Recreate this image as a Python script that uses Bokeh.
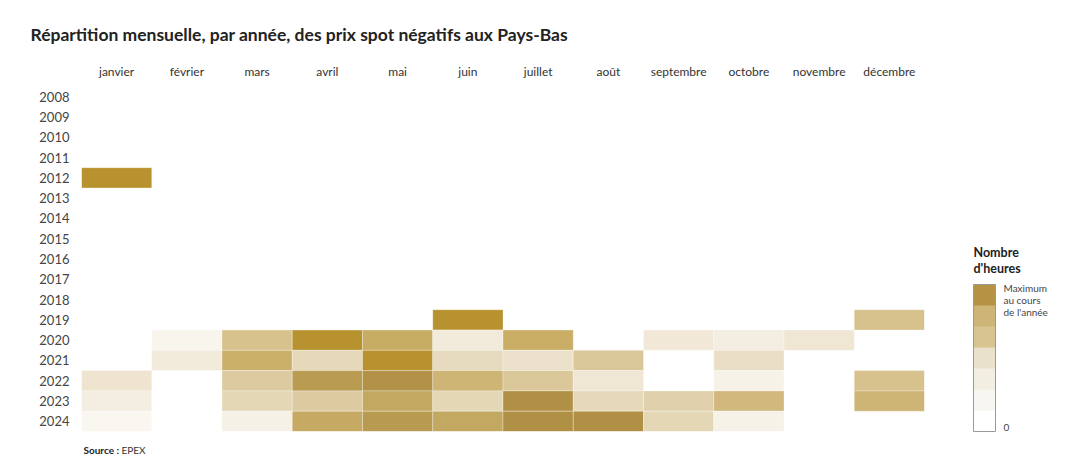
from bokeh.plotting import figure
from bokeh.models import (ColumnDataSource, FactorRange, LinearColorMapper, ColorBar,
                          FixedTicker, Label)
from bokeh.transform import transform
from bokeh.embed import file_html
from bokeh.resources import INLINE

# ---------------- data ----------------
months = ["janvier", "février", "mars", "avril", "mai", "juin", "juillet",
          "août", "septembre", "octobre", "novembre", "décembre"]
years = [str(y) for y in range(2008, 2025)]

# share of the year's maximum monthly number of negative-price hours (0..1)
v2012 = [1.00, 0, 0, 0, 0, 0, 0, 0, 0, 0, 0, 0]
v2019 = [0, 0, 0, 0, 0, 1.00, 0, 0, 0, 0, 0, 0.50]
v2020 = [0, 0.05, 0.50, 1.00, 0.72, 0.13, 0.70, 0, 0.14, 0.10, 0.16, 0]
v2021 = [0, 0.13, 0.68, 0.30, 1.00, 0.27, 0.20, 0.45, 0, 0.23, 0, 0]
v2022 = [0.18, 0, 0.42, 0.86, 0.93, 0.62, 0.45, 0.16, 0, 0.07, 0, 0.50]
v2023 = [0.10, 0, 0.32, 0.42, 0.75, 0.32, 0.95, 0.30, 0.37, 0.58, 0, 0.62]
v2024 = [0.04, 0, 0.08, 0.73, 0.87, 0.75, 0.95, 0.95, 0.32, 0.07, 0, 0]
rows = {"2012": v2012, "2019": v2019, "2020": v2020, "2021": v2021,
        "2022": v2022, "2023": v2023, "2024": v2024}

legend_colors = ["#FFFFFF", "#F8F6F0", "#F3EEE2", "#EAE1CA", "#D7C491", "#CDB577", "#B69245"]

# ---------------- colour scale ----------------
anchors = [(0.00, "#FFFFFF"), (0.05, "#F8F5EC"), (0.10, "#F4EEE2"), (0.15, "#F0E7D6"),
           (0.25, "#E9DDC2"), (0.32, "#E3D7B6"), (0.42, "#DCCBA1"), (0.50, "#D7C28E"),
           (0.60, "#CFB679"), (0.70, "#CAAE66"), (0.75, "#C3A862"), (0.87, "#B89A50"),
           (0.95, "#B09044"), (1.00, "#B8922F")]

def hex2rgb(h):
    return tuple(int(h[i:i + 2], 16) for i in (1, 3, 5))

palette = []
N = 201
for k in range(N):
    t = k / (N - 1)
    for (a, ca), (b, cb) in zip(anchors[:-1], anchors[1:]):
        if a <= t <= b:
            f = (t - a) / (b - a) if b > a else 0
            r1, g1, b1 = hex2rgb(ca)
            r2, g2, b2 = hex2rgb(cb)
            palette.append("#%02x%02x%02x" % (round(r1 + (r2 - r1) * f),
                                             round(g1 + (g2 - g1) * f),
                                             round(b1 + (b2 - b1) * f)))
            break

mapper = LinearColorMapper(palette=palette, low=0, high=1)

xs, ys, vs = [], [], []
for yr, vals in rows.items():
    for m, v in zip(months, vals):
        if v > 0:
            xs.append(m)
            ys.append(yr)
            vs.append(v)
source = ColumnDataSource(dict(month=xs, year=ys, value=vs))

FONT = "Lato"

p = figure(width=1074, height=459, title=None,
           x_range=FactorRange(factors=months),
           y_range=FactorRange(factors=list(reversed(years))),
           x_axis_location="above",
           toolbar_location=None, output_backend="svg",
           min_border_left=81, min_border_right=150,
           min_border_top=86, min_border_bottom=28)
p.outline_line_color = None
p.grid.grid_line_color = None
p.background_fill_color = "white"

p.rect(x="month", y="year", width=1, height=1, source=source,
       fill_color=transform("value", mapper),
       line_color="white", line_alpha=0.3, line_width=1)

for ax in (p.xaxis[0], p.yaxis[0]):
    ax.axis_line_color = None
    ax.major_tick_line_color = None
    ax.minor_tick_line_color = None
    ax.major_tick_out = 0
    ax.major_tick_in = 0
    ax.major_label_text_font = FONT
p.xaxis.major_label_text_font_size = "12px"
p.xaxis.major_label_text_color = "#333333"
p.xaxis.major_label_standoff = 8
p.yaxis.major_label_text_font_size = "13px"
p.yaxis.major_label_text_color = "#444444"
p.yaxis.major_label_standoff = 12

# chart title and legend title (above panel, stacked over the month axis)
p.add_layout(Label(x=-51, y=26.5, x_units="screen", y_units="screen",
                   text="Répartition mensuelle, par année, des prix spot négatifs aux Pays-Bas",
                   text_font=FONT, text_font_size="17.5px", text_font_style="bold",
                   text_color="#222222", text_baseline="middle"), "above")
p.add_layout(Label(x=892, y=-205.5, x_units="screen", y_units="screen",
                   text="Nombre\nd'heures", text_font=FONT, text_font_size="12.5px",
                   text_font_style="bold", text_color="#222222",
                   text_baseline="top", text_line_height=1.05), "above")

# source (below panel)
p.add_layout(Label(x=2, y=-6, x_units="screen", y_units="screen",
                   text="Source :", text_font=FONT, text_font_size="10px",
                   text_font_style="bold", text_color="#222222",
                   text_baseline="middle"), "below")
p.add_layout(Label(x=40, y=6, x_units="screen", y_units="screen",
                   text="EPEX", text_font=FONT, text_font_size="10px",
                   text_color="#333333", text_baseline="middle"), "below")

# legend colour bar
leg_mapper = LinearColorMapper(palette=legend_colors, low=0, high=7)
cb = ColorBar(color_mapper=leg_mapper, orientation="vertical",
              width=22, height=147,
              ticker=FixedTicker(ticks=[0.2, 6.25]),
              major_label_overrides={0.2: "0", 6.25: "Maximum\nau cours\nde l'année"},
              major_label_text_font=FONT, major_label_text_font_size="10px",
              major_label_text_color="#444444", major_label_text_line_height=1.0,
              major_tick_line_color=None, minor_tick_line_color=None,
              bar_line_color="#999999", bar_line_width=1,
              label_standoff=8, padding=0,
              background_fill_alpha=0, border_line_color=None,
              location=(49, 0))
p.add_layout(cb, "right")

open("out.html", "w").write(file_html(p, INLINE))
